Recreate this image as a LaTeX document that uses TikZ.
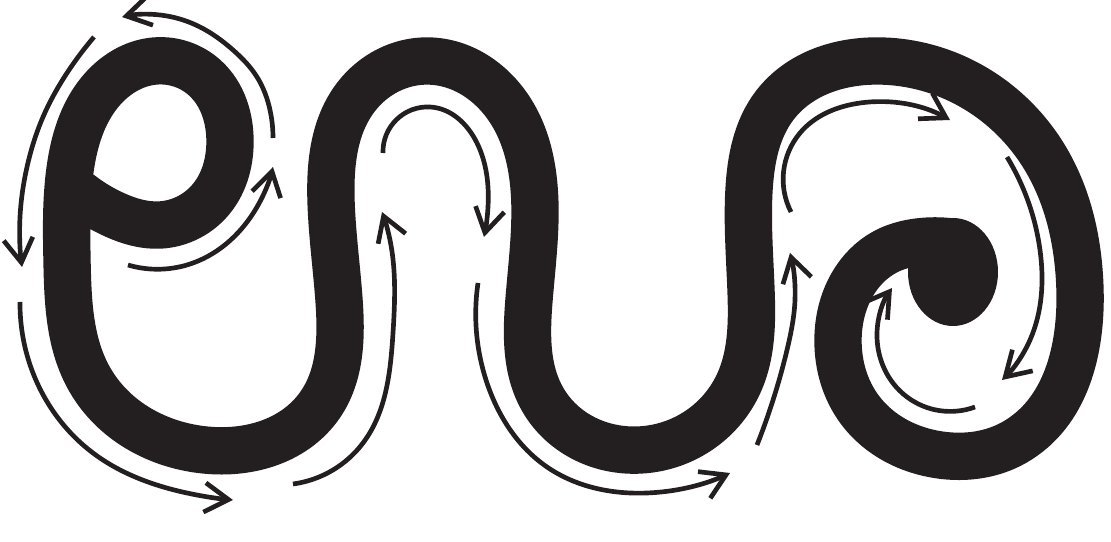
\documentclass[tikz,border=0pt]{standalone}
\usepackage{xcolor}
\usetikzlibrary{arrows.meta, hobby}
\definecolor{inkBlack}{RGB}{35,31,32}

\begin{document}
\begin{tikzpicture}[
    x=0.03cm, y=-0.03cm,
    band/.style={draw=inkBlack, line width=1.42cm, line join=round, line cap=round, use Hobby shortcut},
    flow/.style={draw=inkBlack, line width=0.14cm, use Hobby shortcut,
                 -{Straight Barb[length=0.72cm, width=0.88cm]}}
]
\useasboundingbox (0,0) rectangle (1111,542);

% the thick band
\draw[band] (80,194) .. (115,215) .. (160,225) .. (212,198) .. (230,143) .. (205,78)
  .. (155,61) .. (100,92) .. (70,170) .. (67,260) .. (90,380) .. (205,450)
  .. (320,405) .. (339,300) .. (331,200) .. (356,97) .. (428,61) .. (510,110)
  .. (535,210) .. (529,300) .. (543,400) .. (640,450) .. (738,385) .. (751,290)
  .. (749,190) .. (775,105) .. (880,61) .. (1040,150) .. (1080,290) .. (1015,442)
  .. (940,455) .. (860,410) .. (838,340) .. (852,285) .. (885,252) .. (918,242) .. (952,242);
% rounded end of the spiral
\fill[inkBlack] (953,272) ellipse[x radius=45, y radius=54];

% flow arrows
\draw[flow] (273,138) .. (270,110) .. (257,77) .. (233,50) .. (200,27) .. (167,16) .. (122,17);
\draw[flow] (94,37) .. (67,73) .. (43,117) .. (27,167) .. (20,217) .. (22,267);
\draw[flow] (20,302) .. (33,373) .. (93,453) .. (187,493) .. (233,500);
\draw[flow] (128,265) .. (193,263) .. (257,207) .. (273,167);
\draw[flow] (293,484) .. (363,443) .. (393,333) .. (390,240) .. (382,212);
\draw[flow] (383,153) .. (430,107) .. (477,143) .. (488,207) .. (484,237);
\draw[flow] (478,283) .. (487,383) .. (547,467) .. (647,493) .. (730,473);
\draw[flow] (757,445) .. (787,350) .. (795,300) .. (790,253);
\draw[flow] (791,212) .. (800,133) .. (860,103) .. (950,120);
\draw[flow] (1007,157) .. (1040,250) .. (1030,340) .. (1002,380);
\draw[flow] (975,407) .. (907,397) .. (877,333) .. (892,288);
\end{tikzpicture}
\end{document}
